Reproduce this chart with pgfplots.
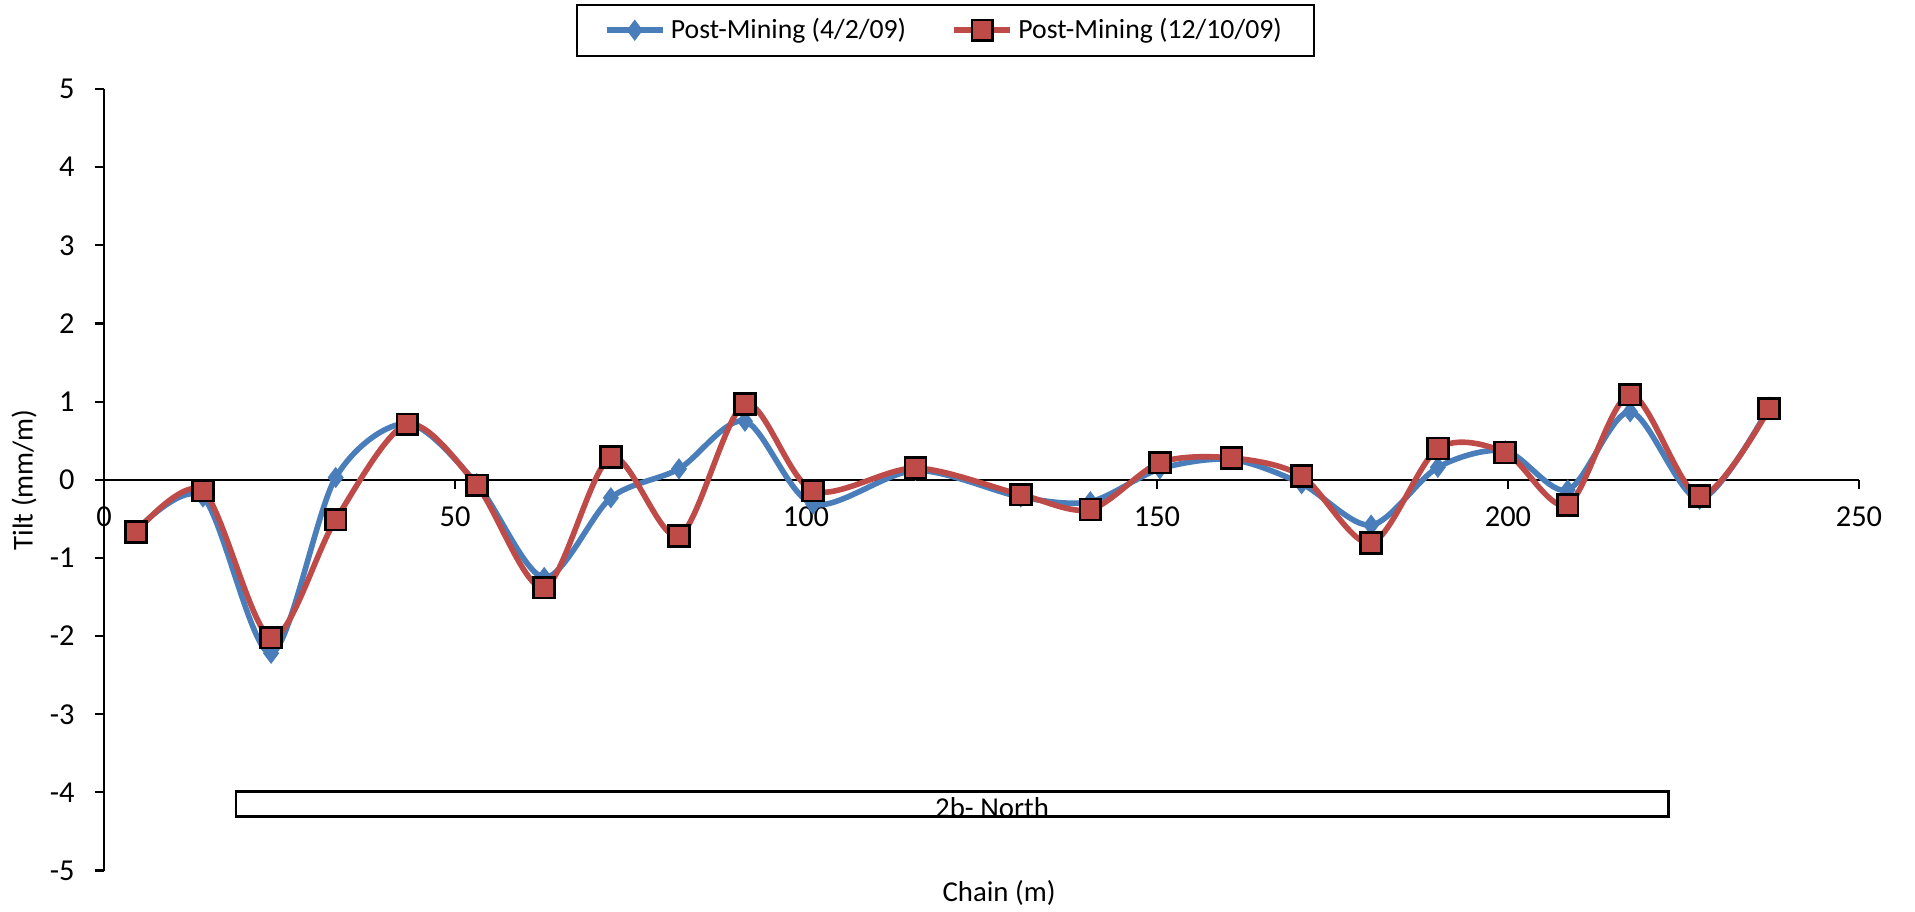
\documentclass[border=0pt]{standalone}
\usepackage{fontspec}
\setmainfont{Carlito}
\usepackage{pgfplots}
\pgfplotsset{compat=1.18}
\definecolor{sblue}{HTML}{4A7EBB}
\definecolor{sred}{HTML}{BE4B48}
\begin{document}
\begin{tikzpicture}
\begin{axis}[
  scale only axis,
  width=658pt, height=293pt,
  xmin=0, xmax=250, ymin=-5, ymax=5,
  axis lines=middle,
  axis line style={-, line width=0.9pt, black},
  hide obscured x ticks=false,
  hide obscured y ticks=false,
  xtick={0,50,100,150,200,250},
  ytick={-5,-4,-3,-2,-1,0,1,2,3,4,5},
  x tick style={draw=none},
  extra x ticks={50,100,150,200,250},
  extra x tick labels={},
  extra x tick style={x tick style={draw=black, line width=0.8pt}, tick align=outside, major tick length=3.5pt},
  y tick style={black, line width=0.8pt},
  ytick align=outside,
  major tick length=3.5pt,
  tick label style={font=\fontsize{11.4}{13}\selectfont},
  /pgf/number format/assume math mode=true,
  yticklabel style={xshift=-4pt},
  xticklabel style={yshift=-5pt},
  clip=false,
  legend columns=2,
  legend style={at={(axis description cs:0.4795,1)}, anchor=north, yshift=32pt,
    draw=black, line width=0.8pt, font=\fontsize{10.4}{12}\selectfont,
    inner xsep=10pt, inner ysep=3pt,
    /tikz/every even column/.append style={column sep=15pt}},
  legend image code/.code={\draw[mark repeat=2,mark phase=2] plot coordinates {(0pt,0pt)(10.5pt,0pt)(21pt,0pt)};},
]
\addplot[sblue, line width=2.1pt, smooth, tension=0.5, mark=diamond*, mark size=3.6pt, mark options={fill=sblue, draw=sblue, line width=0.5pt}] coordinates {
(4.56,-0.65) (14.1,-0.22) (23.8,-2.22) (33.0,0.03) (43.2,0.72) (53.1,-0.05)
(62.7,-1.25) (72.2,-0.23) (81.9,0.14) (91.3,0.75) (101,-0.31) (115.6,0.12)
(130.6,-0.22) (140.5,-0.28) (150.4,0.14) (160.6,0.26) (170.6,-0.05) (180.5,-0.58)
(190.0,0.16) (199.6,0.37) (208.5,-0.13) (217.4,0.87) (227.3,-0.25) (237.2,0.93)
};
\addlegendentry{Post-Mining (4/2/09)}
\addplot[sred, line width=2.1pt, smooth, tension=0.5, mark=square*, mark size=3.9pt, mark options={fill=sred, draw=black, line width=1pt}] coordinates {
(4.56,-0.67) (14.1,-0.14) (23.8,-2.02) (33.0,-0.51) (43.2,0.71) (53.1,-0.07)
(62.7,-1.38) (72.2,0.29) (81.9,-0.72) (91.3,0.97) (101,-0.14) (115.6,0.15)
(130.6,-0.19) (140.5,-0.38) (150.4,0.22) (160.6,0.28) (170.6,0.05) (180.5,-0.81)
(190.0,0.40) (199.6,0.35) (208.5,-0.32) (217.4,1.09) (227.3,-0.21) (237.2,0.91)
};
\addlegendentry{Post-Mining (12/10/09)}
\draw[black, line width=1pt, fill=white] (axis cs:18.8,-3.99) rectangle (axis cs:222.9,-4.31);
\node[font=\fontsize{10.8}{12}\selectfont, inner sep=0pt] at (axis cs:126.5,-4.19) {2b- North};
\node[font=\fontsize{10.8}{12}\selectfont, rotate=90, anchor=center] at ([xshift=-30pt]rel axis cs:0,0.5) {Tilt (mm/m)};
\node[font=\fontsize{10.8}{12}\selectfont, anchor=center] at ([yshift=-8.5pt]rel axis cs:0.51,0) {Chain (m)};
\end{axis}
\pgfresetboundingbox
\path (current axis.south west) ++(-39pt,-15.4pt) coordinate (bbA);
\path (current axis.north east) ++(21pt,33.4pt) coordinate (bbB);
\useasboundingbox (bbA) rectangle (bbB);
\end{tikzpicture}
\end{document}
